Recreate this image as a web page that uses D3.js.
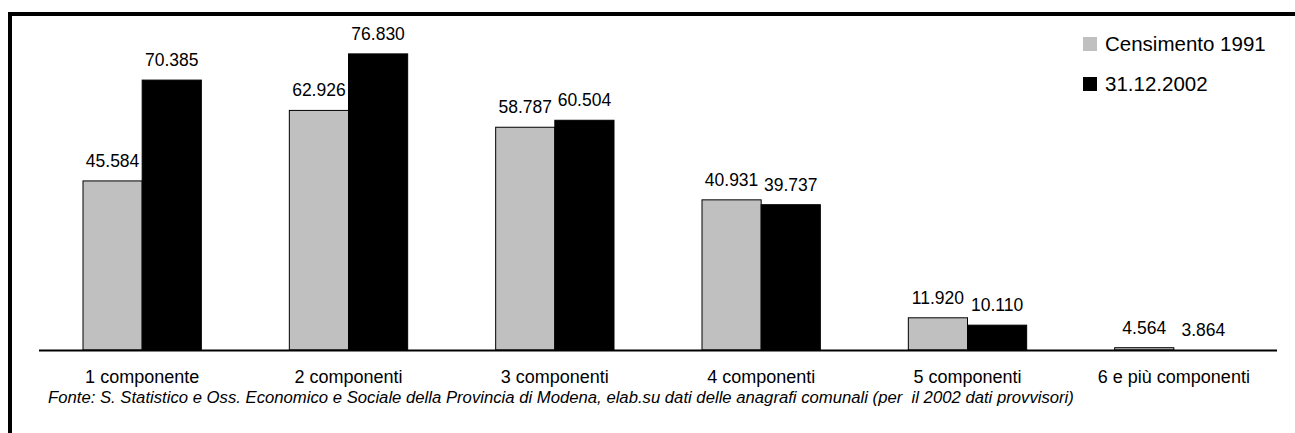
<!DOCTYPE html>
<html lang="it">
<head>
    <meta charset="UTF-8">
    <title>Famiglie per numero di componenti</title>
    <style>
        body {
            margin: 0;
            background-color: #fff;
        }
        svg text {
            font-family: "Liberation Sans", Arial, sans-serif;
            fill: #000;
        }
        .value-label { font-size: 17.5px; }
        .cat-label { font-size: 18px; }
        .legend-label { font-size: 20.5px; }
        .note { font-size: 16.7px; font-style: italic; }
    </style>
</head>
<body>
    <svg id="chart" width="1295" height="433"></svg>

    <script src="https://d3js.org/d3.v7.min.js"></script>
    <script>
        // Categorie (numero di componenti del nucleo familiare)
        var categories = ['1 componente', '2 componenti', '3 componenti', '4 componenti', '5 componenti', '6 e più componenti'];

        // Serie
        var seriesNames = ['Censimento 1991', '31.12.2002'];
        var values1991 = [45584, 62926, 58787, 40931, 11920, 4564];
        var values2002 = [70385, 76830, 60504, 39737, 10110, 3864];

        var note = 'Fonte: S. Statistico e Oss. Economico e Sociale della Provincia di Modena, elab.su dati delle anagrafi comunali (per\u00a0\u00a0il 2002 dati provvisori)';

        var width = 1295;
        var height = 433;
        var baseY = 350;

        var colors = d3.scaleOrdinal()
            .domain(seriesNames)
            .range(['#c0c0c0', '#000000']);

        // numeri in formato italiano (45.584)
        var itFormat = d3.formatLocale({ decimal: ',', thousands: '.', grouping: [3], currency: ['', '€'] }).format(',d');

        var data = categories.map(function (c, i) {
            return { cat: c, vals: [
                { s: seriesNames[0], v: values1991[i] },
                { s: seriesNames[1], v: values2002[i] }
            ] };
        });

        var svg = d3.select('#chart');

        // cornice
        svg.append('rect')
            .attr('x', 10)
            .attr('y', 14)
            .attr('width', 1400)
            .attr('height', 600)
            .attr('fill', 'none')
            .attr('stroke', '#000')
            .attr('stroke-width', 4);

        var x0 = d3.scaleBand()
            .domain(categories)
            .range([39, 1277])
            .padding(0);

        var x1 = d3.scaleBand()
            .domain(seriesNames)
            .range([44, x0.bandwidth() - 44])
            .padding(0);

        // l'asse parte da 4.000 (come nell'originale)
        var y = d3.scaleLinear()
            .domain([4000, 80000])
            .range([baseY, 41]);

        function barTop(v) {
            return Math.min(baseY, y(v));
        }

        var groups = svg.selectAll('.group')
            .data(data)
            .enter()
            .append('g')
            .attr('class', 'group')
            .attr('transform', d => `translate(${x0(d.cat)}, 0)`);

        groups.selectAll('rect')
            .data(d => d.vals)
            .enter()
            .append('rect')
            .attr('x', d => x1(d.s))
            .attr('y', d => barTop(d.v))
            .attr('width', x1.bandwidth())
            .attr('height', d => baseY - barTop(d.v))
            .attr('fill', d => colors(d.s))
            .attr('stroke', '#000')
            .attr('stroke-width', 1);

        groups.selectAll('.value-label')
            .data(d => d.vals)
            .enter()
            .append('text')
            .attr('class', 'value-label')
            .attr('x', d => x1(d.s) + x1.bandwidth() / 2)
            .attr('y', d => barTop(d.v) - 14)
            .attr('text-anchor', 'middle')
            .text(d => itFormat(d.v));

        // asse X
        var xAxis = d3.axisBottom(x0).tickSize(0).tickPadding(0);
        var gx = svg.append('g')
            .attr('transform', `translate(0, ${baseY})`)
            .call(xAxis);
        gx.select('.domain')
            .attr('stroke', '#000')
            .attr('stroke-width', 2)
            .attr('d', `M${x0.range()[0]},0.5H${x0.range()[1]}`);
        gx.selectAll('.tick text')
            .attr('class', 'cat-label')
            .attr('font-family', null)
            .attr('font-size', null)
            .attr('dy', null)
            .attr('y', 33);

        // legenda
        var legend = svg.selectAll('.legend-item')
            .data(seriesNames)
            .enter()
            .append('g')
            .attr('class', 'legend-item')
            .attr('transform', (d, i) => `translate(1083, ${37 + i * 40})`);

        legend.append('rect')
            .attr('width', 14)
            .attr('height', 14)
            .attr('fill', d => colors(d));

        legend.append('text')
            .attr('class', 'legend-label')
            .attr('x', 22)
            .attr('y', 13.5)
            .text(d => d);

        // nota
        svg.append('text')
            .attr('class', 'note')
            .attr('x', 48)
            .attr('y', 403)
            .text(note);
    </script>
</body>
</html>
